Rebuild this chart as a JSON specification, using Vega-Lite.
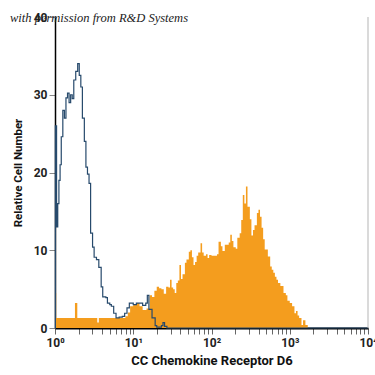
{
  "$schema": "https://vega.github.io/schema/vega-lite/v6.json",
  "width": 313,
  "height": 311,
  "autosize": {"type": "none"},
  "padding": {"left": 55, "top": 17, "right": 7, "bottom": 47},
  "background": "white",
  "config": {"view": {"stroke": null}},
  "title": {
    "text": "with permission from R&D Systems",
    "font": "Liberation Serif",
    "fontStyle": "italic",
    "fontWeight": "normal",
    "fontSize": 12.5,
    "color": "#222222",
    "anchor": "start",
    "frame": "group",
    "baseline": "alphabetic",
    "dx": -45,
    "offset": -23
  },
  "datasets": {
    "stained": [
      {"lx": 0.0, "n": 4.5}, {"lx": 0.015, "n": 1.3}, {"lx": 0.255, "n": 3.2}, {"lx": 0.285, "n": 1.3},
      {"lx": 0.54, "n": 0.7}, {"lx": 0.56, "n": 1.3}, {"lx": 0.9, "n": 1.5}, {"lx": 0.93, "n": 2.0},
      {"lx": 0.96, "n": 2.8}, {"lx": 1.0, "n": 3.0}, {"lx": 1.04, "n": 3.2}, {"lx": 1.08, "n": 2.8},
      {"lx": 1.12, "n": 2.3}, {"lx": 1.17, "n": 2.5}, {"lx": 1.21, "n": 4.2}, {"lx": 1.24, "n": 4.0},
      {"lx": 1.27, "n": 4.8}, {"lx": 1.3, "n": 5.3}, {"lx": 1.33, "n": 5.1}, {"lx": 1.36, "n": 5.0},
      {"lx": 1.39, "n": 4.4}, {"lx": 1.42, "n": 5.3}, {"lx": 1.45, "n": 5.2}, {"lx": 1.47, "n": 6.2},
      {"lx": 1.49, "n": 5.2}, {"lx": 1.51, "n": 5.0}, {"lx": 1.53, "n": 4.5}, {"lx": 1.55, "n": 5.8},
      {"lx": 1.57, "n": 6.1}, {"lx": 1.59, "n": 8.1}, {"lx": 1.61, "n": 6.3}, {"lx": 1.63, "n": 6.9},
      {"lx": 1.66, "n": 8.4}, {"lx": 1.68, "n": 8.8}, {"lx": 1.71, "n": 9.8}, {"lx": 1.73, "n": 10.0},
      {"lx": 1.75, "n": 9.1}, {"lx": 1.77, "n": 8.1}, {"lx": 1.79, "n": 8.5}, {"lx": 1.81, "n": 9.3},
      {"lx": 1.83, "n": 9.7}, {"lx": 1.86, "n": 10.9}, {"lx": 1.88, "n": 9.7}, {"lx": 1.9, "n": 9.3},
      {"lx": 1.93, "n": 9.5}, {"lx": 1.95, "n": 9.0}, {"lx": 1.97, "n": 9.4}, {"lx": 2.0, "n": 9.3},
      {"lx": 2.03, "n": 9.3}, {"lx": 2.07, "n": 9.5}, {"lx": 2.09, "n": 11.1}, {"lx": 2.12, "n": 10.5},
      {"lx": 2.14, "n": 9.9}, {"lx": 2.17, "n": 10.7}, {"lx": 2.2, "n": 10.7}, {"lx": 2.22, "n": 11.0},
      {"lx": 2.24, "n": 12.0}, {"lx": 2.26, "n": 11.2}, {"lx": 2.28, "n": 10.4}, {"lx": 2.31, "n": 10.2},
      {"lx": 2.33, "n": 11.6}, {"lx": 2.36, "n": 12.2}, {"lx": 2.38, "n": 13.9}, {"lx": 2.4, "n": 17.1},
      {"lx": 2.42, "n": 16.0}, {"lx": 2.44, "n": 18.2}, {"lx": 2.46, "n": 15.6}, {"lx": 2.49, "n": 14.0},
      {"lx": 2.51, "n": 11.9}, {"lx": 2.53, "n": 12.6}, {"lx": 2.55, "n": 13.2}, {"lx": 2.58, "n": 14.8},
      {"lx": 2.6, "n": 15.2}, {"lx": 2.62, "n": 14.3}, {"lx": 2.64, "n": 12.9}, {"lx": 2.66, "n": 11.4},
      {"lx": 2.68, "n": 10.1}, {"lx": 2.7, "n": 10.1}, {"lx": 2.72, "n": 9.2}, {"lx": 2.75, "n": 7.9},
      {"lx": 2.77, "n": 7.5}, {"lx": 2.79, "n": 7.1}, {"lx": 2.81, "n": 6.6}, {"lx": 2.83, "n": 6.2},
      {"lx": 2.85, "n": 5.8}, {"lx": 2.88, "n": 5.4}, {"lx": 2.92, "n": 4.5}, {"lx": 2.95, "n": 4.2},
      {"lx": 2.97, "n": 3.5}, {"lx": 3.0, "n": 3.2}, {"lx": 3.03, "n": 2.8}, {"lx": 3.06, "n": 1.9},
      {"lx": 3.08, "n": 2.2}, {"lx": 3.1, "n": 1.6}, {"lx": 3.12, "n": 1.3}, {"lx": 3.15, "n": 0.4},
      {"lx": 3.17, "n": 1.0}, {"lx": 3.2, "n": 0.4}, {"lx": 3.23, "n": 0.0}, {"lx": 4.0, "n": 0.0}
    ],
    "control": [
      {"lx": 0.0, "n": 0.0}, {"lx": 0.005, "n": 26.0}, {"lx": 0.02, "n": 13.0}, {"lx": 0.035, "n": 16.0},
      {"lx": 0.05, "n": 19.0}, {"lx": 0.065, "n": 21.0}, {"lx": 0.08, "n": 24.6}, {"lx": 0.1, "n": 28.0},
      {"lx": 0.12, "n": 27.0}, {"lx": 0.14, "n": 29.6}, {"lx": 0.16, "n": 30.2}, {"lx": 0.18, "n": 29.0},
      {"lx": 0.2, "n": 30.0}, {"lx": 0.22, "n": 29.5}, {"lx": 0.24, "n": 31.9}, {"lx": 0.265, "n": 33.0},
      {"lx": 0.29, "n": 34.0}, {"lx": 0.31, "n": 32.5}, {"lx": 0.33, "n": 31.0}, {"lx": 0.35, "n": 27.0},
      {"lx": 0.375, "n": 24.0}, {"lx": 0.395, "n": 20.7}, {"lx": 0.415, "n": 19.8}, {"lx": 0.435, "n": 18.6},
      {"lx": 0.455, "n": 12.2}, {"lx": 0.48, "n": 10.4}, {"lx": 0.5, "n": 9.1}, {"lx": 0.53, "n": 8.8},
      {"lx": 0.56, "n": 7.8}, {"lx": 0.59, "n": 5.3}, {"lx": 0.61, "n": 4.0}, {"lx": 0.65, "n": 3.9},
      {"lx": 0.67, "n": 3.2}, {"lx": 0.7, "n": 3.0}, {"lx": 0.72, "n": 2.8}, {"lx": 0.75, "n": 1.9},
      {"lx": 0.78, "n": 1.3}, {"lx": 0.82, "n": 1.4}, {"lx": 0.86, "n": 1.5}, {"lx": 0.89, "n": 1.9},
      {"lx": 0.92, "n": 2.6}, {"lx": 0.95, "n": 3.2}, {"lx": 1.0, "n": 3.0}, {"lx": 1.04, "n": 3.2},
      {"lx": 1.08, "n": 3.2}, {"lx": 1.12, "n": 2.9}, {"lx": 1.16, "n": 3.2}, {"lx": 1.18, "n": 4.2},
      {"lx": 1.2, "n": 2.4}, {"lx": 1.24, "n": 1.3}, {"lx": 1.28, "n": 0.3}, {"lx": 1.3, "n": 0.1},
      {"lx": 1.36, "n": 0.3}, {"lx": 1.38, "n": 0.7}, {"lx": 1.4, "n": 0.2}, {"lx": 1.43, "n": 0.0},
      {"lx": 4.0, "n": 0.0}
    ]
  },
  "layer": [
    {
      "data": {"name": "stained"},
      "mark": {"type": "area", "interpolate": "step-after", "color": "#f49d1e", "opacity": 1},
      "encoding": {
        "x": {
          "field": "lx",
          "type": "quantitative",
          "scale": {"domain": [0, 4], "nice": false, "zero": false},
          "axis": {
            "values": [0, 0.30103, 0.47712, 0.60206, 0.69897, 0.77815, 0.8451, 0.90309, 0.95424,
                       1, 1.30103, 1.47712, 1.60206, 1.69897, 1.77815, 1.8451, 1.90309, 1.95424,
                       2, 2.30103, 2.47712, 2.60206, 2.69897, 2.77815, 2.8451, 2.90309, 2.95424,
                       3, 3.30103, 3.47712, 3.60206, 3.69897, 3.77815, 3.8451, 3.90309, 3.95424, 4],
            "tickCount": 60,
            "labelExpr": "datum.value == 0 ? '10⁰' : datum.value == 1 ? '10¹' : datum.value == 2 ? '10²' : datum.value == 3 ? '10³' : datum.value == 4 ? '10⁴' : ''",
            "labelOverlap": false,
            "labelFlush": false,
            "grid": false,
            "domainColor": "#000000",
            "domainWidth": 2,
            "tickColor": "#666666",
            "tickSize": 6,
            "labelFont": "Roboto",
            "labelFontSize": 12,
            "labelFontWeight": "bold",
            "labelColor": "#222222",
            "labelPadding": 3,
            "title": "CC Chemokine Receptor D6",
            "titleFont": "Roboto",
            "titleFontSize": 13,
            "titleFontWeight": "bold",
            "titleColor": "#111111",
            "titlePadding": 6
          }
        },
        "y": {
          "field": "n",
          "type": "quantitative",
          "scale": {"domain": [0, 40], "nice": false},
          "axis": {
            "values": [0, 10, 20, 30, 40],
            "grid": false,
            "domainColor": "#000000",
            "domainWidth": 1.5,
            "tickColor": "#888888",
            "tickSize": 6,
            "labelFont": "Roboto",
            "labelFontSize": 12,
            "labelFontWeight": "bold",
            "labelColor": "#222222",
            "labelPadding": 2,
            "title": "Relative Cell Number",
            "titleFont": "Roboto",
            "titleFontSize": 11.5,
            "titleFontWeight": "bold",
            "titleColor": "#111111",
            "titlePadding": 10
          }
        }
      }
    },
    {
      "data": {"name": "control"},
      "mark": {"type": "line", "interpolate": "step-after", "color": "#274a6c", "strokeWidth": 1.2},
      "encoding": {
        "x": {"field": "lx", "type": "quantitative"},
        "y": {"field": "n", "type": "quantitative"}
      }
    },
    {
      "data": {"values": [{}]},
      "mark": {"type": "rule", "color": "#b5b5b5", "strokeWidth": 1},
      "encoding": {"x": {"datum": 4}}
    }
  ]
}
